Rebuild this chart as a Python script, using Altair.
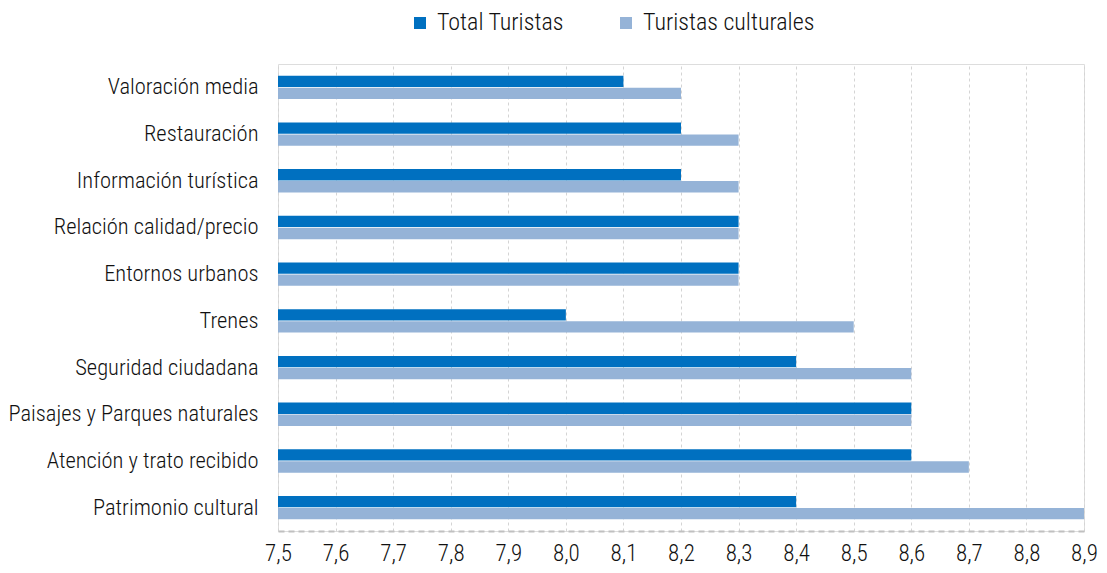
import altair as alt
import pandas as pd

categories = ["Valoración media", "Restauración", "Información turística",
              "Relación calidad/precio", "Entornos urbanos", "Trenes",
              "Seguridad ciudadana", "Paisajes y Parques naturales",
              "Atención y trato recibido", "Patrimonio cultural"]
total_turistas = [8.1, 8.2, 8.2, 8.3, 8.3, 8.0, 8.4, 8.6, 8.6, 8.4]
turistas_culturales = [8.2, 8.3, 8.3, 8.3, 8.3, 8.5, 8.6, 8.6, 8.7, 8.9]
series = ["Total Turistas", "Turistas culturales"]
colors = ["#0070C0", "#95B3D7"]
x_ticks = [7.5, 7.6, 7.7, 7.8, 7.9, 8.0, 8.1, 8.2, 8.3, 8.4, 8.5, 8.6, 8.7, 8.8, 8.9]

rows = []
for c, a, b in zip(categories, total_turistas, turistas_culturales):
    rows.append({"cat": c, "serie": series[0], "val": a})
    rows.append({"cat": c, "serie": series[1], "val": b})
df = pd.DataFrame(rows)

FONT = "Liberation Sans Narrow, Roboto Condensed, DejaVu Sans Condensed, sans-serif"

chart = alt.Chart(df).mark_bar().encode(
    y=alt.Y("cat:N", sort=categories, title=None,
            scale=alt.Scale(paddingInner=0.5, paddingOuter=0.25),
            axis=alt.Axis(domain=False, ticks=False, labelFontSize=22.5,
                          labelFont=FONT, labelColor="#111", labelPadding=20,
                          labelFontWeight=300, labelLimit=400)),
    yOffset=alt.YOffset("serie:N", sort=series, scale=alt.Scale(paddingInner=0.06)),
    x=alt.X("val:Q", title=None,
            scale=alt.Scale(domain=[7.5, 8.9], zero=False, nice=False),
            axis=alt.Axis(values=x_ticks, ticks=False, labelFontSize=23,
                          labelFont=FONT, labelColor="#111", labelPadding=11,
                          labelFontWeight=300,
                          labelExpr="replace(format(datum.value, '.1f'), '.', ',')",
                          grid=True, gridDash=[3, 3], gridColor="#d4d4d4",
                          gridWidth=1, domain=True, domainColor="#c0c0c0",
                          domainWidth=2, domainDash=[6, 4],
                          labelFlush=False)),
    x2=alt.datum(7.5),
    color=alt.Color("serie:N", sort=series,
                    scale=alt.Scale(domain=series, range=colors),
                    legend=alt.Legend(title=None, orient="none", direction="horizontal",
                                      legendX=130, legendY=-53,
                                      symbolType="square", symbolSize=144,
                                      symbolStrokeWidth=0,
                                      labelFontSize=24, labelFont=FONT,
                                      labelFontWeight=300, labelLimit=400,
                                      labelColor="#111", labelOffset=5,
                                      columnPadding=50, padding=0)),
).properties(
    width=806, height=467,
    autosize=alt.AutoSizeParams(type="none"),
    padding={"left": 270, "top": 56, "right": 15, "bottom": 34},
).configure_view(stroke=None).configure(background="white")

chart.save("out.html", embed_options={"renderer": "svg", "actions": False})
